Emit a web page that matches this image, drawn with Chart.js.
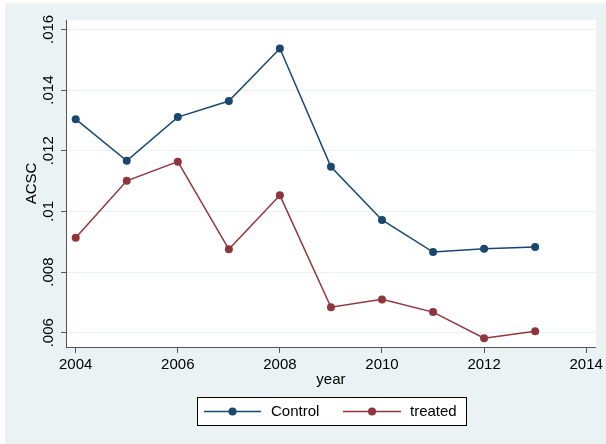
<!DOCTYPE html>
<html>
<head>
<meta charset="utf-8">
<script src="https://cdn.jsdelivr.net/npm/chart.js@4"></script>
<style>
  html, body { margin: 0; padding: 0; background: #fff; }
  canvas { display: block; }
</style>
</head>
<body>
<canvas id="acscChart" width="606" height="444"></canvas>
<script>
const years = [2004, 2005, 2006, 2007, 2008, 2009, 2010, 2011, 2012, 2013];
const control = [0.01304, 0.01167, 0.01311, 0.01364, 0.01537, 0.01147, 0.00972, 0.00866, 0.00877, 0.00883];
const treated = [0.00913, 0.01101, 0.01164, 0.00875, 0.01053, 0.00684, 0.00710, 0.00668, 0.00582, 0.00605];
const xTicks = [2004, 2006, 2008, 2010, 2012, 2014];
const yTicks = [0.006, 0.008, 0.010, 0.012, 0.014, 0.016];
const yTickLabels = ['.006', '.008', '.01', '.012', '.014', '.016'];

const NAVY = '#1a476f';
const MAROON = '#90353b';
const BG = '#eaf2f3';
const AXIS = '#555555';
const FONT = "'Liberation Sans', Arial, Helvetica, sans-serif";

Chart.defaults.font.family = FONT;
Chart.defaults.font.size = 15;
Chart.defaults.color = '#000';

const toPoints = vals => years.map((yr, i) => ({ x: yr, y: vals[i] }));

// graph region, then the white plot region
const backdrop = {
  id: 'backdrop',
  beforeDraw(chart) {
    const { ctx, chartArea: a } = chart;
    ctx.save();
    ctx.fillStyle = '#fff';
    ctx.fillRect(0, 0, chart.width, chart.height);
    ctx.fillStyle = BG;
    ctx.fillRect(5, 3, chart.width - 5, chart.height - 3);
    ctx.fillStyle = '#fff';
    ctx.fillRect(a.left, a.top, a.right - a.left, a.bottom - a.top);
    ctx.restore();
  }
};

// boxed legend below the x axis title, line + marker per series
const boxLegend = {
  id: 'boxLegend',
  afterDraw(chart) {
    const { ctx } = chart;
    const bx = 197.5, by = 397.5, bw = 269, bh = 28;
    const cy = by + bh / 2;
    ctx.save();
    ctx.fillStyle = '#fff';
    ctx.fillRect(bx, by, bw, bh);
    ctx.strokeStyle = '#000';
    ctx.lineWidth = 1;
    ctx.strokeRect(bx, by, bw, bh);
    const items = [
      { x0: 204, x1: 261, textX: 271 },
      { x0: 343, x1: 401, textX: 410 }
    ];
    chart.data.datasets.forEach((ds, i) => {
      const it = items[i];
      ctx.strokeStyle = ds.borderColor;
      ctx.lineWidth = 1.5;
      ctx.beginPath();
      ctx.moveTo(it.x0, cy);
      ctx.lineTo(it.x1, cy);
      ctx.stroke();
      ctx.fillStyle = ds.borderColor;
      ctx.beginPath();
      ctx.arc((it.x0 + it.x1) / 2, cy, 4, 0, Math.PI * 2);
      ctx.fill();
      ctx.fillStyle = '#000';
      ctx.font = '15px ' + FONT;
      ctx.textAlign = 'left';
      ctx.textBaseline = 'middle';
      ctx.fillText(ds.label, it.textX, cy);
    });
    ctx.restore();
  }
};

new Chart(document.getElementById('acscChart'), {
  type: 'line',
  data: {
    datasets: [
      {
        label: 'Control',
        data: toPoints(control),
        borderColor: NAVY,
        backgroundColor: NAVY,
        borderWidth: 1.5,
        pointRadius: 4,
        pointBorderWidth: 0,
        tension: 0
      },
      {
        label: 'treated',
        data: toPoints(treated),
        borderColor: MAROON,
        backgroundColor: MAROON,
        borderWidth: 1.5,
        pointRadius: 4,
        pointBorderWidth: 0,
        tension: 0
      }
    ]
  },
  options: {
    responsive: false,
    animation: false,
    devicePixelRatio: 1,
    layout: { padding: { left: 0, top: 20, right: 7, bottom: 55 } },
    plugins: {
      legend: { display: false },
      tooltip: { enabled: false }
    },
    scales: {
      x: {
        type: 'linear',
        min: 2003.81,
        max: 2014.19,
        afterBuildTicks: s => { s.ticks = xTicks.map(v => ({ value: v })); },
        afterFit: s => { s.height = 42; },
        ticks: { padding: 3, maxRotation: 0, autoSkip: false, callback: v => String(v) },
        grid: { drawOnChartArea: false, tickLength: 6, tickColor: AXIS },
        border: { color: AXIS, width: 1 },
        title: { display: true, text: 'year', padding: { top: 0, bottom: 0 } }
      },
      y: {
        min: 0.00553,
        max: 0.01631,
        afterBuildTicks: s => { s.ticks = yTicks.map(v => ({ value: v })); },
        afterFit: s => { s.width = 66; },
        ticks: {
          minRotation: 90,
          maxRotation: 90,
          crossAlign: 'center',
          padding: -2,
          autoSkip: false,
          callback: (v, i) => yTickLabels[i]
        },
        grid: { color: BG, lineWidth: 1, tickLength: 5, tickColor: AXIS },
        border: { color: AXIS, width: 1 },
        title: { display: true, text: 'ACSC', padding: { top: 23, bottom: 0 } }
      }
    }
  },
  plugins: [backdrop, boxLegend]
});
</script>
</body>
</html>
